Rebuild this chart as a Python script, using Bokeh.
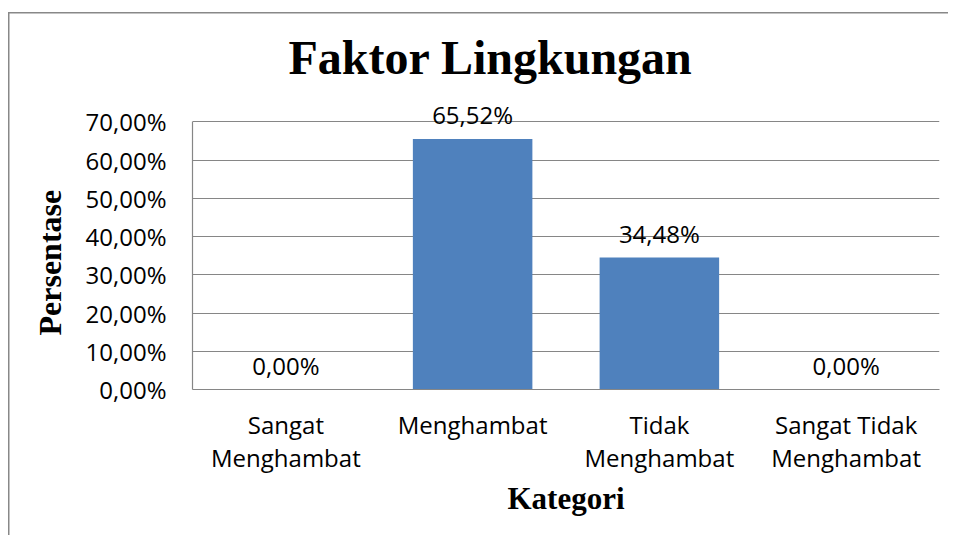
from bokeh.plotting import figure
from bokeh.models import FactorRange, ColumnDataSource, FixedTicker, Title, LabelSet
from bokeh.core.properties import value
from bokeh.embed import file_html
from bokeh.resources import INLINE

categories = ["Sangat\nMenghambat", "Menghambat", "Tidak\nMenghambat", "Sangat Tidak\nMenghambat"]
values = [0.0, 65.52, 34.48, 0.0]
value_labels = ["0,00%", "65,52%", "34,48%", "0,00%"]
y_ticks = [0, 10, 20, 30, 40, 50, 60, 70]
y_tick_labels = ["0,00%", "10,00%", "20,00%", "30,00%", "40,00%", "50,00%", "60,00%", "70,00%"]
y_axis_max = 70

TICK_FONT = "Open Sans"
SERIF = "Liberation Serif"
GRID = "#868686"

# the plotting area reaches above 70% so the outside-end data labels are not clipped;
# the axis line itself is bounded to 0..70%
p = figure(x_range=FactorRange(factors=categories), y_range=(0, 80),
           width=948, height=535, output_backend="svg", toolbar_location=None,
           min_border_left=192, min_border_right=9, min_border_top=83, min_border_bottom=146)
p.outline_line_color = None
p.background_fill_color = "white"
p.border_fill_color = None
p.styles = {
    "background-color": "white",
    "background-image": "linear-gradient(#888888,#888888), linear-gradient(#888888,#888888)",
    "background-position": "8px 12px, 8px 12px",
    "background-size": "100% 1.5px, 1.5px 100%",
    "background-repeat": "no-repeat, no-repeat",
}

src = ColumnDataSource(dict(cat=categories, val=values, lab=value_labels))
p.vbar(x="cat", top="val", width=0.64, source=src, fill_color="#4F81BD", line_color=None)
p.add_layout(LabelSet(x="cat", y="val", text="lab", source=src, text_font=value(TICK_FONT),
                      text_font_size="24px", text_align="center", text_baseline="middle",
                      y_offset=24, text_color="black"))

# axes
p.yaxis.ticker = FixedTicker(ticks=y_ticks)
p.yaxis.bounds = (0, y_axis_max)
p.yaxis.major_label_overrides = dict(zip(y_ticks, y_tick_labels))
p.yaxis.major_label_text_font = TICK_FONT
p.yaxis.major_label_text_font_size = "24px"
p.yaxis.major_label_text_color = "black"
p.yaxis.major_tick_line_color = None
p.yaxis.minor_tick_line_color = None
p.yaxis.major_tick_out = 0
p.yaxis.major_label_standoff = 26
p.yaxis.axis_line_color = GRID
p.yaxis.axis_line_width = 1.2

# y-axis title as a side title so it can be centred on the 0..70% span
p.add_layout(Title(text="Persentase", align="left", offset=54, text_font=SERIF,
                   text_font_style="bold", text_font_size="32px", text_color="black",
                   standoff=30), "left")

p.xaxis.major_label_text_font = TICK_FONT
p.xaxis.major_label_text_font_size = "24px"
p.xaxis.major_label_text_color = "black"
p.xaxis.major_label_text_line_height = 1.0
p.xaxis.major_tick_line_color = None
p.xaxis.major_tick_out = 0
p.xaxis.major_label_standoff = 18
p.xaxis.axis_line_color = GRID
p.xaxis.axis_line_width = 1.2
p.xaxis.axis_label = "Kategori"
p.xaxis.axis_label_text_font = SERIF
p.xaxis.axis_label_text_font_style = "bold"
p.xaxis.axis_label_text_font_size = "31px"
p.xaxis.axis_label_text_color = "black"
p.xaxis.axis_label_standoff = 4

p.xgrid.grid_line_color = None
p.ygrid.grid_line_color = GRID
p.ygrid.grid_line_width = 1.2

p.title = Title(text="Faktor Lingkungan", align="left", offset=96, text_font=SERIF,
                text_font_style="bold", text_font_size="48px", text_color="black",
                standoff=0)

open("out.html", "w").write(file_html(p, INLINE))
